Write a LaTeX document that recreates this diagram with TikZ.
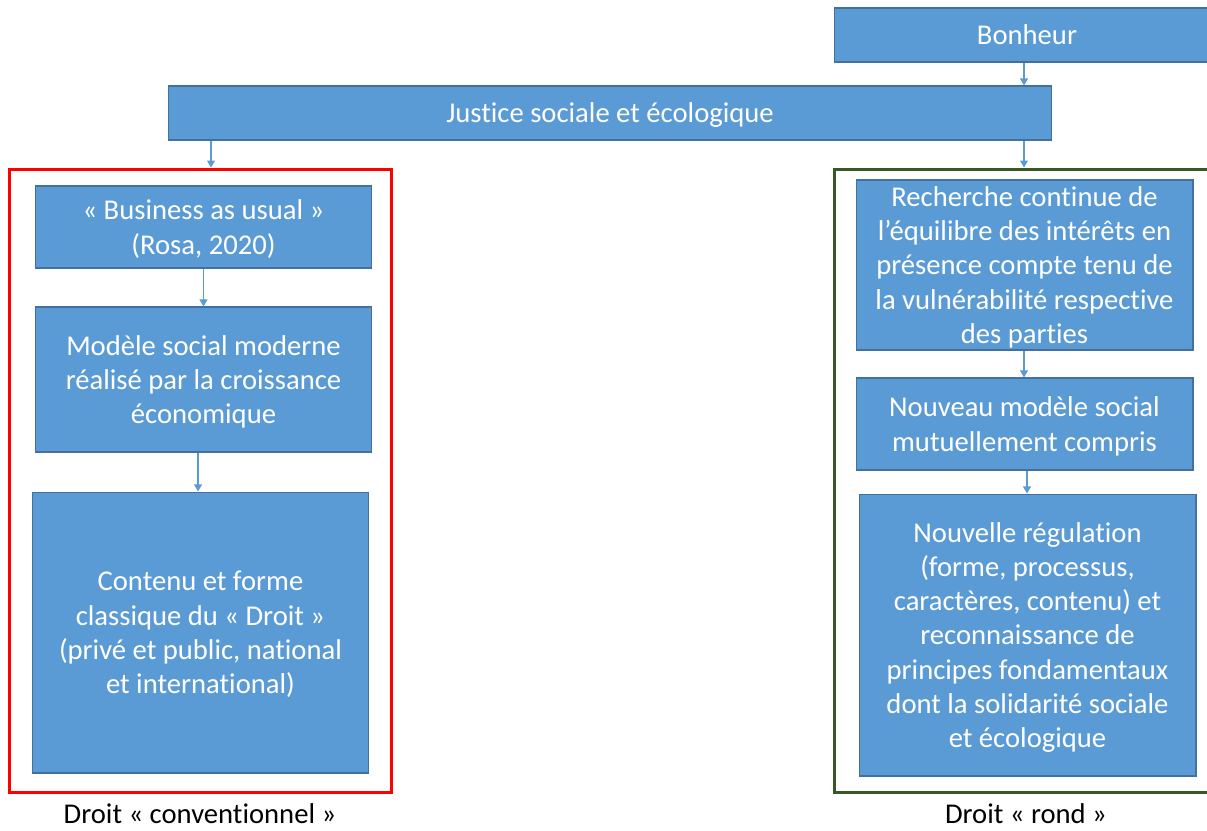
\documentclass[tikz,border=0pt]{standalone}
\usepackage{fontspec}
\setmainfont{Carlito}[Ligatures=NoCommon]
\usepackage{xcolor}
\usepackage{tikz}
\usetikzlibrary{arrows.meta}
\definecolor{boxblue}{HTML}{5B9BD5}
\definecolor{boxline}{HTML}{41719C}
\definecolor{frgreen}{HTML}{385723}
\tikzset{ step_box/.style = {rectangle, draw=boxline, fill=boxblue, text=white, align=center, inner sep=0pt, line width=0.6pt, text depth=0pt, font=\fontsize{16.3}{19.5}\selectfont} }
\tikzset{ frame_box/.style = {rectangle, line width=1.7pt, inner sep=0pt} }
\tikzset{ flow/.style = {draw=boxblue, line width=0.6pt, -{Triangle[width=4.5pt,length=4pt]}} }
\tikzset{ law_label/.style = {align=center, inner sep=0pt, text depth=0pt, font=\fontsize{16.3}{19.5}\selectfont} }

\begin{document}
\begin{tikzpicture}[x=0.02cm, y=-0.02cm]
\useasboundingbox (0,0) rectangle (1207,831);
% frames
\node[frame_box, draw=red, minimum width=7.66cm, minimum height=12.48cm] (conv) at (200.5,481) {};
\node[frame_box, draw=frgreen, minimum width=7.72cm, minimum height=12.48cm] (rond) at (1027,481) {};
% top
\node[step_box, minimum width=7.72cm, minimum height=1.08cm] (bonheur) at (1027,35) {Bonheur};
\node[step_box, minimum width=17.68cm, minimum height=1.08cm] (justice) at (610,113) {Justice sociale et écologique};
% left column
\node[step_box, minimum width=6.74cm, minimum height=1.64cm] (l1) at (203.5,227) {« Business as usual »\\(Rosa, 2020)};
\node[step_box, minimum width=6.74cm, minimum height=2.9cm] (l2) at (203.5,379.5) {Modèle social moderne\\réalisé par la croissance\\économique};
\node[step_box, minimum width=6.74cm, minimum height=5.62cm] (l3) at (200.5,632.5) {Contenu et forme\\classique du « Droit »\\(privé et public, national\\et international)};
% right column
\node[step_box, minimum width=6.74cm, minimum height=3.4cm] (r1) at (1024.5,265) {Recherche continue de\\l’équilibre des intérêts en\\présence compte tenu de\\la vulnérabilité respective\\des parties};
\node[step_box, minimum width=6.74cm, minimum height=1.84cm] (r2) at (1024.5,424) {Nouveau modèle social\\mutuellement compris};
\node[step_box, minimum width=6.74cm, minimum height=5.64cm] (r3) at (1027.5,635) {Nouvelle régulation\\(forme, processus,\\caractères, contenu) et\\reconnaissance de\\principes fondamentaux\\dont la solidarité sociale\\et écologique};
% captions
\node[law_label] (convlabel) at (200,814) {Droit « conventionnel »};
\node[law_label] (rondlabel) at (1026,814) {Droit « rond »};
% arrow columns
\coordinate (xa) at (1024,0);
\coordinate (xb) at (211,0);
\coordinate (xc) at (198,0);
\coordinate (xd) at (1027,0);
\draw[flow] (bonheur.south -| xa) -- (justice.north -| xa);
\draw[flow] (justice.south -| xb) -- (conv.north -| xb);
\draw[flow] (justice.south -| xa) -- (rond.north -| xa);
\draw[flow] (l1) -- (l2);
\draw[flow] (l2.south -| xc) -- (l3.north -| xc);
\draw[flow] (r1.south -| xa) -- (r2.north -| xa);
\draw[flow] (r2.south -| xd) -- (r3.north -| xd);
\end{tikzpicture}
\end{document}
